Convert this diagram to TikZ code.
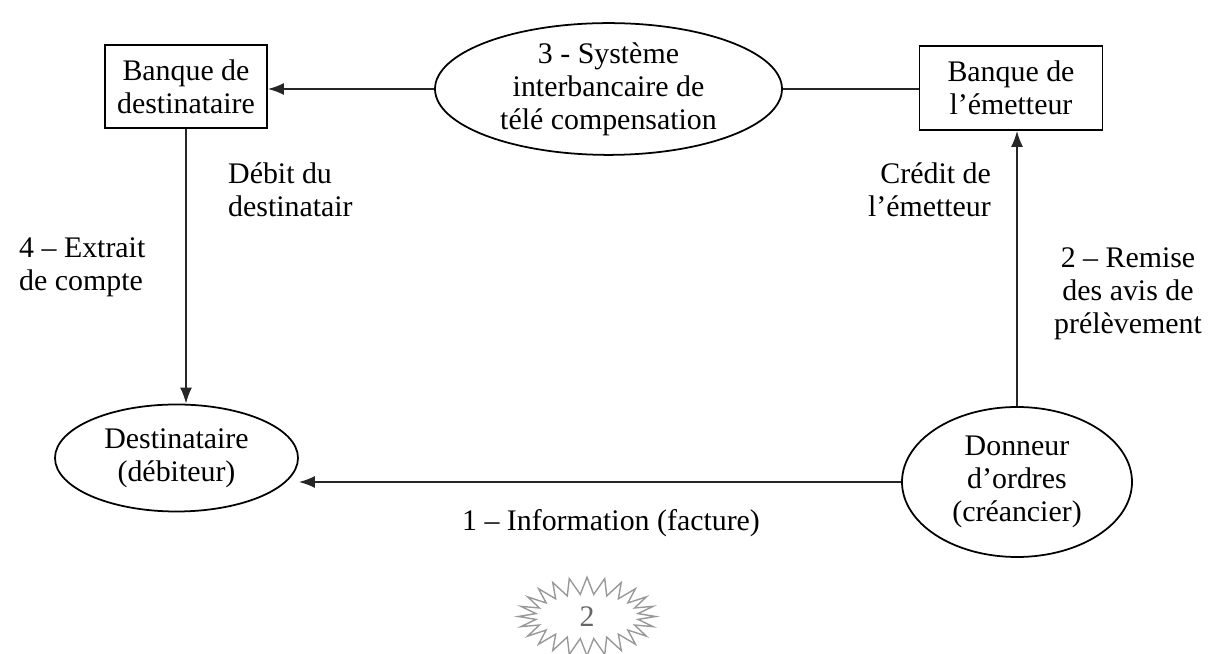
\documentclass[tikz,border=0pt]{standalone}
\usepackage{fontspec}
\setmainfont{Liberation Serif}
\usepackage{tikz}
\usetikzlibrary{positioning,shapes.geometric,shapes.symbols,arrows.meta}

\begin{document}
\begin{tikzpicture}[
                % Styles des noeuds
                banknode/.style={rectangle, draw=black, line width=1pt, align=center, minimum width=3.24cm, minimum height=1.66cm, inner sep=2pt},
                actnode/.style={ellipse, draw=black, line width=1pt, align=center, inner sep=0pt},
                % Style des liens
                lien/.style={draw=black!85, line width=1pt},
                fleche/.style={->, >={Latex[length=0.32cm,width=0.24cm]}, draw=black!85, line width=1pt},
                % Style des textes
                txt/.style={align=left},
                every node/.style={font=\fontsize{17}{18.8}\selectfont}
            ]
                \useasboundingbox (0,0) rectangle (24.16,13.08);

                % --- NOEUDS ---
                % Haut
                \node[banknode] (banqdest) at (3.72, 11.35) {Banque de\\destinataire};
                \node[actnode, minimum width=6.94cm, minimum height=2.6cm] (systeme) at (12.17, 11.3) {3 - Système\\interbancaire de\\télé compensation};
                \node[banknode, minimum width=3.66cm, minimum height=1.68cm] (banqemet) at (20.22, 11.32) {Banque de\\l’émetteur};

                % Bas
                \node[actnode, minimum width=4.86cm, minimum height=2.14cm] (destin) at (3.53, 3.92) {Destinataire\\(débiteur)};
                \node[actnode, minimum width=4.6cm, minimum height=3.0cm] (donneur) at (20.34, 3.44) {Donneur\\d’ordres\\(créancier)};

                % --- LIENS ---
                \draw[fleche] (systeme.west) -- (banqdest.east |- systeme.west);
                \draw[lien] (systeme.east) -- (banqemet.west |- systeme.east);
                \draw[fleche] (banqdest.south) -- (banqdest.south |- destin.north);
                \draw[fleche] (donneur.north) -- (banqemet.south -| donneur.north);
                \draw[fleche] (donneur.west |- 0,3.44) -- (destin.east |- 0,3.44);

                % --- LIBELLES ---
                \node[txt, anchor=north west] (debit) at (4.44, 9.95) {Débit du\\destinatair};
                \node[txt, anchor=north east, align=right] (credit) at (19.94, 9.95) {Crédit de\\l’émetteur};
                \node[txt, anchor=north west] (extrait) at (0.26, 8.45) {4 – Extrait\\de compte};
                \node[txt, anchor=north, align=center] (remise) at (22.56, 8.25) {2 – Remise\\des avis de\\prélèvement};
                \node[txt, anchor=north] (info) at (12.22, 3.02) {1 – Information (facture)};

                % --- NUMERO DE PAGE ---
                \node[starburst, draw=black!40, thick, starburst points=24, starburst point height=0.34cm, random starburst=0, minimum width=2.74cm, minimum height=1.4cm, text=black!60] (page) at (11.74, 0.75) {2};

            \end{tikzpicture}
\end{document}
